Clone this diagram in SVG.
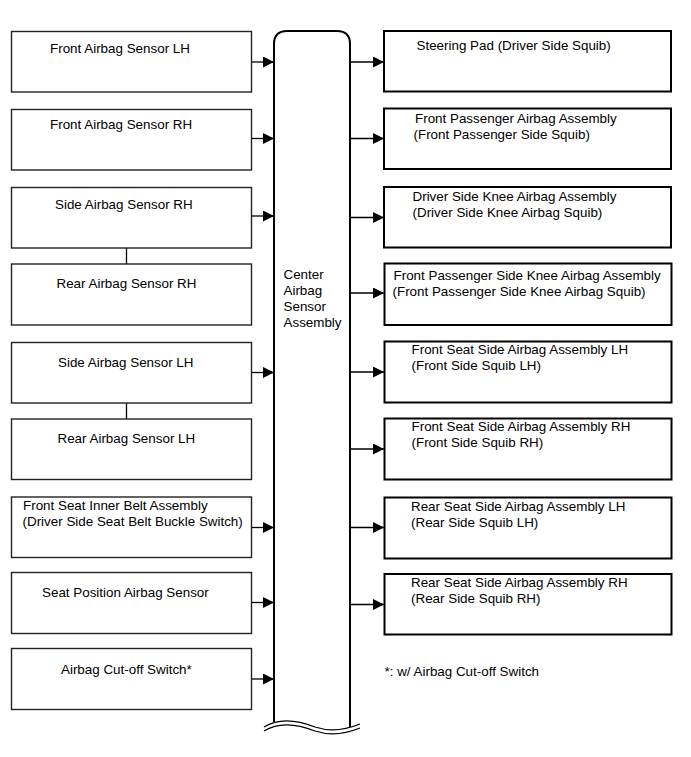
<svg xmlns="http://www.w3.org/2000/svg" width="691" height="757" viewBox="0 0 691 757">
<style>
text{font-family:"Liberation Sans",Arial,sans-serif;font-size:13.4px;fill:#000}
.lb{fill:#fff;stroke:#222;stroke-width:1.4}
.rb{fill:#fff;stroke:#000;stroke-width:2}
.ln{stroke:#000;stroke-width:1.3;fill:none}
</style>
<defs>
<marker id="ah" viewBox="0 0 10 10" refX="10" refY="5" markerWidth="13" markerHeight="11" markerUnits="userSpaceOnUse" orient="auto">
<path d="M0,0 L10,5 L0,10 Z" fill="#000"/>
</marker>
</defs>
<rect width="691" height="757" fill="#fff"/>

<g id="connectors">
<line class="ln" x1="252" y1="62" x2="274" y2="62" marker-end="url(#ah)"/>
<line class="ln" x1="252" y1="138.5" x2="274" y2="138.5" marker-end="url(#ah)"/>
<line class="ln" x1="252" y1="216" x2="274" y2="216" marker-end="url(#ah)"/>
<line class="ln" x1="252" y1="372.5" x2="274" y2="372.5" marker-end="url(#ah)"/>
<line class="ln" x1="252" y1="527.5" x2="274" y2="527.5" marker-end="url(#ah)"/>
<line class="ln" x1="252" y1="602.5" x2="274" y2="602.5" marker-end="url(#ah)"/>
<line class="ln" x1="252" y1="679" x2="274" y2="679" marker-end="url(#ah)"/>
<line class="ln" x1="126.5" y1="248" x2="126.5" y2="264"/>
<line class="ln" x1="126.5" y1="403" x2="126.5" y2="419"/>
<line class="ln" x1="350" y1="62" x2="384" y2="62" marker-end="url(#ah)"/>
<line class="ln" x1="350" y1="138.5" x2="384" y2="138.5" marker-end="url(#ah)"/>
<line class="ln" x1="350" y1="217.5" x2="384" y2="217.5" marker-end="url(#ah)"/>
<line class="ln" x1="350" y1="293" x2="384" y2="293" marker-end="url(#ah)"/>
<line class="ln" x1="350" y1="372" x2="384" y2="372" marker-end="url(#ah)"/>
<line class="ln" x1="350" y1="449" x2="384" y2="449" marker-end="url(#ah)"/>
<line class="ln" x1="350" y1="527.5" x2="384" y2="527.5" marker-end="url(#ah)"/>
<line class="ln" x1="350" y1="604.5" x2="384" y2="604.5" marker-end="url(#ah)"/>
</g>

<g id="center">
<path d="M274,722 L274,44 Q274,31 287,31 L337,31 Q350,31 350,44 L350,727" fill="none" stroke="#000" stroke-width="2"/>
<path d="M264,727 C280,717 300,721 315,727 C330,732 345,730 360,724" fill="none" stroke="#000" stroke-width="1.2"/>
<path d="M264,731 C280,721 300,725 315,731 C330,736 345,734 360,728" fill="none" stroke="#000" stroke-width="1.2"/>
<text x="283.5" y="278.5">Center</text>
<text x="283.5" y="294.5">Airbag</text>
<text x="283.5" y="310.5">Sensor</text>
<text x="283.5" y="326.5">Assembly</text>
</g>

<g id="front-lh"><rect class="lb" x="11.5" y="31.5" width="240" height="60.5"/><text x="50" y="52.5">Front Airbag Sensor LH</text></g>
<g id="front-rh"><rect class="lb" x="11.5" y="109.5" width="240" height="60.5"/><text x="50" y="129">Front Airbag Sensor RH</text></g>
<g id="side-rh"><rect class="lb" x="11.5" y="187.5" width="240" height="60.5"/><text x="55" y="209">Side Airbag Sensor RH</text></g>
<g id="rear-rh"><rect class="lb" x="11.5" y="264" width="240" height="61"/><text x="56.5" y="287.5">Rear Airbag Sensor RH</text></g>
<g id="side-lh"><rect class="lb" x="11.5" y="342.5" width="240" height="60.5"/><text x="58" y="366.5">Side Airbag Sensor LH</text></g>
<g id="rear-lh"><rect class="lb" x="11.5" y="419" width="240" height="60.5"/><text x="57.5" y="443">Rear Airbag Sensor LH</text></g>
<g id="belt"><rect class="lb" x="11.5" y="497" width="240" height="60.5"/><text x="23" y="509.5">Front Seat Inner Belt Assembly</text><text x="22.5" y="525.5">(Driver Side Seat Belt Buckle Switch)</text></g>
<g id="seat-pos"><rect class="lb" x="11.5" y="572.5" width="240" height="61"/><text x="42" y="597">Seat Position Airbag Sensor</text></g>
<g id="cutoff"><rect class="lb" x="11.5" y="648.5" width="240" height="61"/><text x="61" y="673.5">Airbag Cut-off Switch*</text></g>

<g id="steering"><rect class="rb" x="384" y="31" width="287" height="60.5"/><text x="416.5" y="49.5">Steering Pad (Driver Side Squib)</text></g>
<g id="fp-airbag"><rect class="rb" x="384" y="108.5" width="287" height="60.5"/><text x="415" y="122.5">Front Passenger Airbag Assembly</text><text x="413.5" y="138.5">(Front Passenger Side Squib)</text></g>
<g id="drv-knee"><rect class="rb" x="384" y="187" width="287" height="60.5"/><text x="412.5" y="201">Driver Side Knee Airbag Assembly</text><text x="412.5" y="217">(Driver Side Knee Airbag Squib)</text></g>
<g id="fp-knee"><rect class="rb" x="384.5" y="263.5" width="287" height="61.5"/><text x="393.5" y="279.5">Front Passenger Side Knee Airbag Assembly</text><text x="392.5" y="295.5">(Front Passenger Side Knee Airbag Squib)</text></g>
<g id="fs-lh"><rect class="rb" x="384.5" y="341.5" width="287" height="61"/><text x="411.5" y="353.5">Front Seat Side Airbag Assembly LH</text><text x="411.5" y="369.5">(Front Side Squib LH)</text></g>
<g id="fs-rh"><rect class="rb" x="384.5" y="418.5" width="287" height="61"/><text x="411.5" y="430.5">Front Seat Side Airbag Assembly RH</text><text x="411.5" y="446.5">(Front Side Squib RH)</text></g>
<g id="rs-lh"><rect class="rb" x="384.5" y="497.5" width="287" height="61"/><text x="411" y="510.5">Rear Seat Side Airbag Assembly LH</text><text x="411" y="526.5">(Rear Side Squib LH)</text></g>
<g id="rs-rh"><rect class="rb" x="384.5" y="574" width="287" height="60.5"/><text x="411" y="587">Rear Seat Side Airbag Assembly RH</text><text x="411" y="603">(Rear Side Squib RH)</text></g>

<text x="384.5" y="676">*: w/ Airbag Cut-off Switch</text>
</svg>
